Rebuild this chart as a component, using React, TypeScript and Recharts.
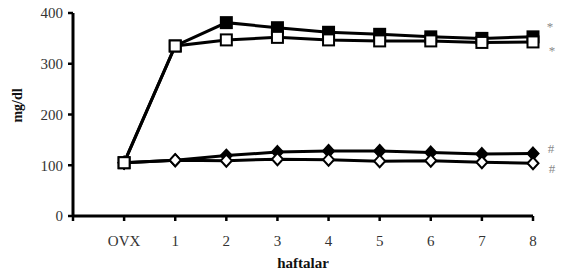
import React from 'react';
import { LineChart, Line, XAxis, YAxis, Label, LabelList } from 'recharts';

// week labels (first slot is the empty origin position)
const weeks = ['', 'OVX', '1', '2', '3', '4', '5', '6', '7', '8'];
const filledSquare = [null, 105, 335, 381, 371, 362, 358, 353, 350, 353];
const openSquare = [null, 105, 335, 347, 352, 347, 345, 345, 342, 343];
const filledDiamond = [null, 105, 110, 119, 126, 128, 128, 125, 122, 123];
const openDiamond = [null, 105, 110, 109, 112, 111, 108, 109, 106, 104];
const yTicks = [0, 100, 200, 300, 400];

const data = weeks.map((w, i) => ({
  week: w,
  fs: filledSquare[i],
  os: openSquare[i],
  fd: filledDiamond[i],
  od: openDiamond[i],
}));

const serif = "'Liberation Serif', 'Times New Roman', serif";

const SquareDot = (fill: string) => (props: any) => {
  const { cx, cy, index } = props;
  if (cx == null || cy == null) return <g key={`s-${index}`} />;
  return (
    <rect key={`s-${index}`} x={cx - 5.5} y={cy - 5.5} width={11} height={11}
      fill={fill} stroke="#000" strokeWidth={2} />
  );
};

const DiamondDot = (fill: string) => (props: any) => {
  const { cx, cy, index } = props;
  if (cx == null || cy == null) return <g key={`d-${index}`} />;
  return (
    <path key={`d-${index}`} d={`M${cx},${cy - 6}L${cx + 5.5},${cy}L${cx},${cy + 6}L${cx - 5.5},${cy}Z`}
      fill={fill} stroke="#000" strokeWidth={2} />
  );
};

// significance mark next to the last point of a series
const endMark = (mark: string, dx: number, dy: number) => (props: any) => {
  const { x, y, index } = props;
  if (index !== weeks.length - 1) return null;
  return (
    <text x={x + dx} y={y + dy} fill="#8a8a8a" fontSize={13} style={{ fontFamily: serif }}
      textAnchor="middle" dominantBaseline="central">{mark}</text>
  );
};

export default function App() {
  return (
    <div style={{ position: 'absolute', left: 0, top: 0, width: 561, height: 275, background: '#fff', fontFamily: serif }}>
      <LineChart width={561} height={275} data={data} style={{ fontFamily: serif }}
        margin={{ top: 13, right: 28, left: 0, bottom: 0 }}>
        <XAxis dataKey="week" interval={0} height={59} tickSize={5} tickMargin={14}
          axisLine={{ stroke: '#000', strokeWidth: 3 }}
          tickLine={{ stroke: '#000', strokeWidth: 2.5 }}
          tick={{ fill: '#333', fontSize: 15, style: { fontFamily: serif } }}>
          <Label value="haftalar" position="insideBottom" offset={7}
            style={{ fontWeight: 'bold', fontSize: 15, fontFamily: serif, fill: '#111' }} />
        </XAxis>
        <YAxis width={73} domain={[0, 400]} ticks={yTicks} tickSize={5} tickMargin={5}
          axisLine={{ stroke: '#000', strokeWidth: 3 }}
          tickLine={{ stroke: '#000', strokeWidth: 2.5 }}
          tick={{ fill: '#333', fontSize: 15, style: { fontFamily: serif } }}>
          <Label content={({ viewBox }: any) => {
            const x = viewBox.x + 17;
            const y = viewBox.y + viewBox.height / 2 - 9;
            return (
              <text x={x} y={y} transform={`rotate(-90, ${x}, ${y})`} textAnchor="middle"
                dominantBaseline="central" fontWeight="bold" fontSize={14} style={{ fontFamily: serif }} fill="#111">
                mg/dl
              </text>
            );
          }} />
        </YAxis>
        <Line dataKey="fd" stroke="#000" strokeWidth={3} dot={DiamondDot('#000')} isAnimationActive={false}>
          <LabelList dataKey="fd" content={endMark('#', 18, -5)} />
        </Line>
        <Line dataKey="od" stroke="#000" strokeWidth={3} dot={DiamondDot('#fff')} isAnimationActive={false}>
          <LabelList dataKey="od" content={endMark('#', 19, 5)} />
        </Line>
        <Line dataKey="fs" stroke="#000" strokeWidth={3} dot={SquareDot('#000')} isAnimationActive={false}>
          <LabelList dataKey="fs" content={endMark('*', 17, -10)} />
        </Line>
        <Line dataKey="os" stroke="#000" strokeWidth={3} dot={SquareDot('#fff')} isAnimationActive={false}>
          <LabelList dataKey="os" content={endMark('*', 19, 9)} />
        </Line>
      </LineChart>
    </div>
  );
}
